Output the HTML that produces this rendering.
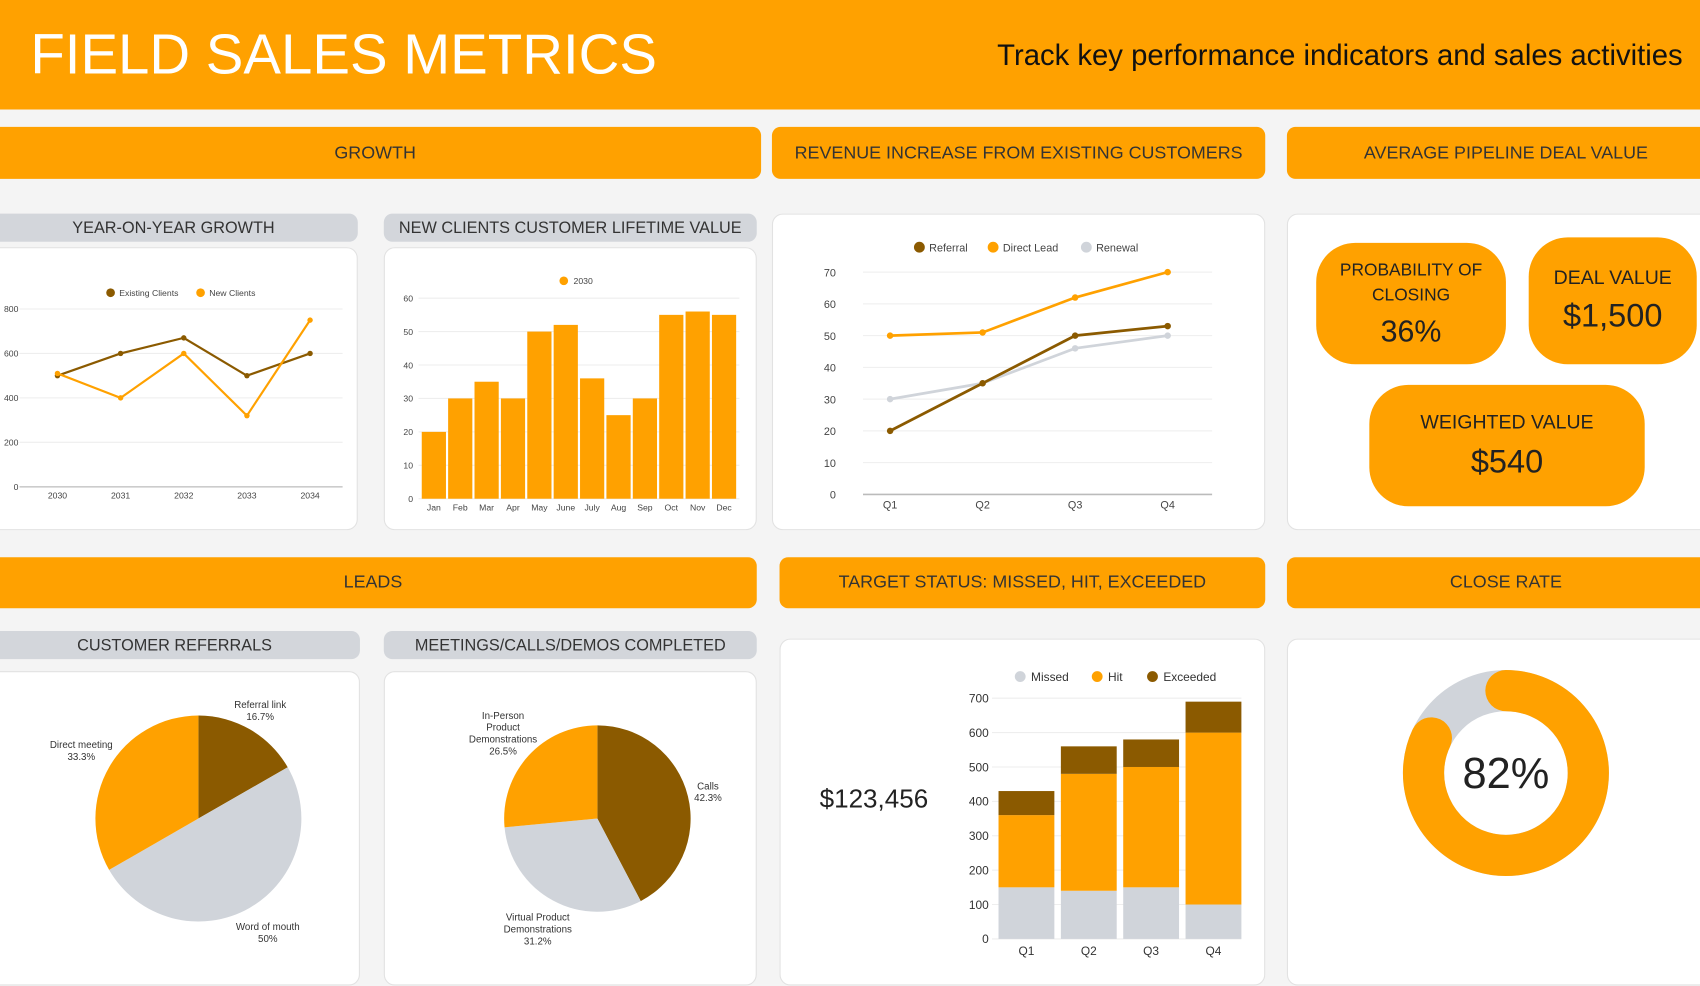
<!DOCTYPE html>
<html><head><meta charset="utf-8">
<style>
html,body{margin:0;padding:0;width:1700px;height:970px;overflow:hidden;background:#f4f4f4;font-family:"Liberation Sans",sans-serif;}
#wrap{position:absolute;left:0;top:0;width:1568px;height:895px;transform:scale(1.08418);transform-origin:0 0;}
.a{position:absolute;box-sizing:border-box;}
.hdr{background:#FFA100;color:#333;font-size:16.5px;display:flex;align-items:center;justify-content:center;border-radius:8px;}
.sub{background:#d3d6db;color:#333;font-size:15px;display:flex;align-items:center;justify-content:center;border-radius:8px;}
.card{background:#fff;border:1.5px solid #e2e2e2;border-radius:10px;}
.box{background:#FFA100;color:#222;border-radius:36px;display:flex;flex-direction:column;align-items:center;justify-content:center;text-align:center;}
svg text{font-family:"Liberation Sans",sans-serif;}
</style></head><body>
<div id="wrap">
<div class="a" style="left:-10px;top:-10px;width:1590px;height:111px;background:#FFA100;border-radius:10px;"></div>
<div class="a" style="left:28px;top:21px;font-size:52px;color:#fff;">FIELD SALES METRICS</div>
<div class="a" style="right:16px;top:36px;font-size:27px;color:#111;">Track key performance indicators and sales activities</div>

<div class="a hdr" style="left:-10px;top:117px;width:712px;height:48px;">GROWTH</div>
<div class="a hdr" style="left:712px;top:117px;width:455px;height:48px;">REVENUE INCREASE FROM EXISTING CUSTOMERS</div>
<div class="a hdr" style="left:1187px;top:117px;width:404px;height:48px;">AVERAGE PIPELINE DEAL VALUE</div>

<div class="a sub" style="left:-10px;top:197px;width:340px;height:26px;">YEAR-ON-YEAR GROWTH</div>
<div class="a sub" style="left:354px;top:197px;width:344px;height:26px;">NEW CLIENTS CUSTOMER LIFETIME VALUE</div>
<div class="a card" style="left:-10px;top:228px;width:340px;height:261px;"></div>
<div class="a card" style="left:354px;top:228px;width:344px;height:261px;"></div>
<div class="a card" style="left:712px;top:197px;width:455px;height:292px;"></div>
<div class="a card" style="left:1187px;top:197px;width:400px;height:292px;"></div>

<div class="a box" style="left:1214px;top:224px;width:175px;height:112px;"><div style="font-size:16px;line-height:23px;">PROBABILITY OF<br>CLOSING</div><div style="font-size:28px;margin-top:6px;">36%</div></div>
<div class="a box" style="left:1410px;top:219px;width:155px;height:117px;"><div style="font-size:18px;">DEAL VALUE</div><div style="font-size:30px;margin-top:8px;">$1,500</div></div>
<div class="a box" style="left:1263px;top:355px;width:254px;height:112px;"><div style="font-size:18px;">WEIGHTED VALUE</div><div style="font-size:30px;margin-top:10px;">$540</div></div>

<div class="a hdr" style="left:-10px;top:514px;width:708px;height:47px;">LEADS</div>
<div class="a hdr" style="left:719px;top:514px;width:448px;height:47px;">TARGET STATUS: MISSED, HIT, EXCEEDED</div>
<div class="a hdr" style="left:1187px;top:514px;width:404px;height:47px;">CLOSE RATE</div>

<div class="a sub" style="left:-10px;top:582px;width:342px;height:26px;">CUSTOMER REFERRALS</div>
<div class="a sub" style="left:354px;top:582px;width:344px;height:26px;">MEETINGS/CALLS/DEMOS COMPLETED</div>
<div class="a card" style="left:-10px;top:619px;width:342px;height:290px;"></div>
<div class="a card" style="left:354px;top:619px;width:344px;height:290px;"></div>
<div class="a card" style="left:719px;top:589px;width:448px;height:320px;"></div>
<div class="a card" style="left:1187px;top:589px;width:400px;height:320px;"></div>
<div class="a" style="left:756px;top:724px;font-size:24px;color:#222;">$123,456</div>

<svg id="ch" class="a" style="left:0;top:0" width="1568" height="895"></svg>
</div>
<script>
// YoY
const yoyYears=["2030","2031","2032","2033","2034"];
const yoyExisting=[500,600,670,500,600];
const yoyNew=[510,400,600,320,750];
const yoyTicks=[0,200,400,600,800];
// CLV
const clvMonths=["Jan","Feb","Mar","Apr","May","June","July","Aug","Sep","Oct","Nov","Dec"];
const clvValues=[20,30,35,30,50,52,36,25,30,55,56,55];
const clvTicks=[0,10,20,30,40,50,60];
// Revenue
const revQuarters=["Q1","Q2","Q3","Q4"];
const revReferral=[20,35,50,53];
const revDirect=[50,51,62,70];
const revRenewal=[30,35,46,50];
const revTicks=[0,10,20,30,40,50,60,70];
// Pies
const refLabels=["Referral link","Word of mouth","Direct meeting"];
const refValues=[16.7,50,33.3];
const meetLabels=["Calls","Virtual Product Demonstrations","In-Person Product Demonstrations"];
const meetValues=[42.3,31.2,26.5];
// Target
const tgtQuarters=["Q1","Q2","Q3","Q4"];
const tgtMissed=[150,140,150,100];
const tgtHit=[210,340,350,500];
const tgtExceeded=[70,80,80,90];
const tgtTicks=[0,100,200,300,400,500,600,700];
// Close rate
const closeRate=82;

const O="#FFA100",B="#8B5A00",G="#d0d4da",NS="http://www.w3.org/2000/svg";
const svg=document.getElementById('ch');
function mk(t,a,p){const e=document.createElementNS(NS,t);for(const k in a)e.setAttribute(k,a[k]);(p||svg).appendChild(e);return e;}
function tx(x,y,s,size,anchor,fill){const e=mk('text',{x:x,y:y,'font-size':size,'text-anchor':anchor||'middle',fill:fill||'#444'});e.textContent=s;return e;}
function lin(d0,d1,r0,r1){return v=>r0+(v-d0)/(d1-d0)*(r1-r0);}

// YoY chart
(function(){
 const y=lin(0,800,449,285),x=i=>53+i*(286-53)/4;
 yoyTicks.forEach(t=>{const l=mk('line',{x1:18,x2:316,y1:y(t),y2:y(t),stroke:t?'#eee':'#ccc','stroke-width':t?1:1.5});
 
 const e=tx(17,y(t)+3,t,8,'end');});
 yoyYears.forEach((s,i)=>{const e=tx(x(i),460,s,8);});
 [[yoyExisting,B,'existing'],[yoyNew,O,'new']].forEach(([d,c,n])=>{
  const p=mk('polyline',{points:d.map((v,i)=>x(i)+','+y(v)).join(' '),fill:'none',stroke:c,'stroke-width':2});
  
  d.forEach((v,i)=>{const m=mk('circle',{cx:x(i),cy:y(v),r:2.5,fill:c});});
 });
 mk('circle',{cx:102,cy:270,r:4,fill:B});tx(110,273,'Existing Clients',8,'start');
 mk('circle',{cx:185,cy:270,r:4,fill:O});tx(193,273,'New Clients',8,'start');
})();

// CLV bar
(function(){
 const y=lin(0,60,460,275),x0=388,w=(680-388)/12;
 clvTicks.forEach(t=>{mk('line',{x1:386,x2:682,y1:y(t),y2:y(t),stroke:'#eee'});const e=tx(381,y(t)+3,t,8,'end');});
 clvValues.forEach((v,i)=>{const r=mk('rect',{x:x0+i*w+1,y:y(v),width:w-2,height:y(0)-y(v),fill:O});
  
  tx(x0+i*w+w/2,471,clvMonths[i],8);});
 mk('circle',{cx:520,cy:259,r:4,fill:O});tx(529,262,'2030',8,'start');
})();

// Revenue lines
(function(){
 const y=lin(0,70,456,251),x=i=>821+i*(1077-821)/3;
 revTicks.forEach(t=>{mk('line',{x1:796,x2:1118,y1:y(t),y2:y(t),stroke:t?'#eee':'#bbb','stroke-width':t?1:1.5});const e=tx(771,y(t)+4,t,10,'end');});
 revQuarters.forEach((s,i)=>tx(x(i),469,s,10));
 [[revRenewal,G,'renewal'],[revDirect,O,'direct-lead'],[revReferral,B,'referral']].forEach(([d,c,n])=>{
  const p=mk('polyline',{points:d.map((v,i)=>x(i)+','+y(v)).join(' '),fill:'none',stroke:c,'stroke-width':2.5});
  
  d.forEach((v,i)=>{const m=mk('circle',{cx:x(i),cy:y(v),r:3,fill:c});});
 });
 [[848,B,'Referral'],[916,O,'Direct Lead'],[1002,G,'Renewal']].forEach(([lx,c,s])=>{mk('circle',{cx:lx,cy:228,r:5,fill:c});tx(lx+9,232,s,10,'start');});
})();

// Pies
function pie(cx,cy,r,vals,cols,name){
 const tot=vals.reduce((a,b)=>a+b,0);let a=-Math.PI/2;
 vals.forEach((v,i)=>{const a2=a+v/tot*2*Math.PI;const lg=(a2-a)>Math.PI?1:0;
  const p=mk('path',{d:`M${cx},${cy} L${cx+r*Math.cos(a)},${cy+r*Math.sin(a)} A${r},${r} 0 ${lg} 1 ${cx+r*Math.cos(a2)},${cy+r*Math.sin(a2)} Z`,fill:cols[i]});
  a=a2;});
}
pie(183,755,95,refValues,[B,G,O],'referrals');
pie(551,755,86,meetValues,[B,G,O],'meetings');
function lbl(x,y,lines){lines.forEach((s,i)=>tx(x,y+i*11,s,9,'middle','#333'));}
lbl(240,653,[refLabels[0],refValues[0]+'%']);
lbl(247,858,[refLabels[1],refValues[1]+'%']);
lbl(75,690,[refLabels[2],refValues[2]+'%']);
lbl(653,728,[meetLabels[0],meetValues[0]+'%']);
lbl(496,849,["Virtual Product","Demonstrations",meetValues[1]+'%']);
lbl(464,663,["In-Person","Product","Demonstrations",meetValues[2]+'%']);

// Target stacked
(function(){
 const y=lin(0,700,866,644),x0=918,w=57.5;
 tgtTicks.forEach(t=>{mk('line',{x1:915,x2:1145,y1:y(t),y2:y(t),stroke:'#eee'});const e=tx(912,y(t)+4,t,11,'end','#333');});
 tgtQuarters.forEach((q,i)=>{let base=0;const bx=x0+i*w+3;
  [[tgtMissed,G,'missed'],[tgtHit,O,'hit'],[tgtExceeded,B,'exceeded']].forEach(([d,c,n])=>{
   const r=mk('rect',{x:bx,y:y(base+d[i]),width:w-6,height:y(base)-y(base+d[i]),fill:c});
   base+=d[i];});
  tx(bx+(w-6)/2,881,q,11,'middle','#333');});
 [[941,G,'Missed'],[1012,O,'Hit'],[1063,B,'Exceeded']].forEach(([lx,c,s])=>{mk('circle',{cx:lx,cy:624,r:5,fill:c});tx(lx+10,628,s,11,'start','#333');});
})();

// Donut
(function(){
 const cx=1389,cy=713,r=76,sw=38;
 mk('circle',{cx:cx,cy:cy,r:r,fill:'none',stroke:G,'stroke-width':sw});
 const a0=-Math.PI/2,a1=a0+closeRate/100*2*Math.PI;
 const p=mk('path',{d:`M${cx+r*Math.cos(a0)},${cy+r*Math.sin(a0)} A${r},${r} 0 ${closeRate>50?1:0} 1 ${cx+r*Math.cos(a1)},${cy+r*Math.sin(a1)}`,fill:'none',stroke:O,'stroke-width':sw,'stroke-linecap':'round'});
 
 const t=tx(cx,cy+14,closeRate+'%',40,'middle','#222');
})();
</script>
</body></html>
